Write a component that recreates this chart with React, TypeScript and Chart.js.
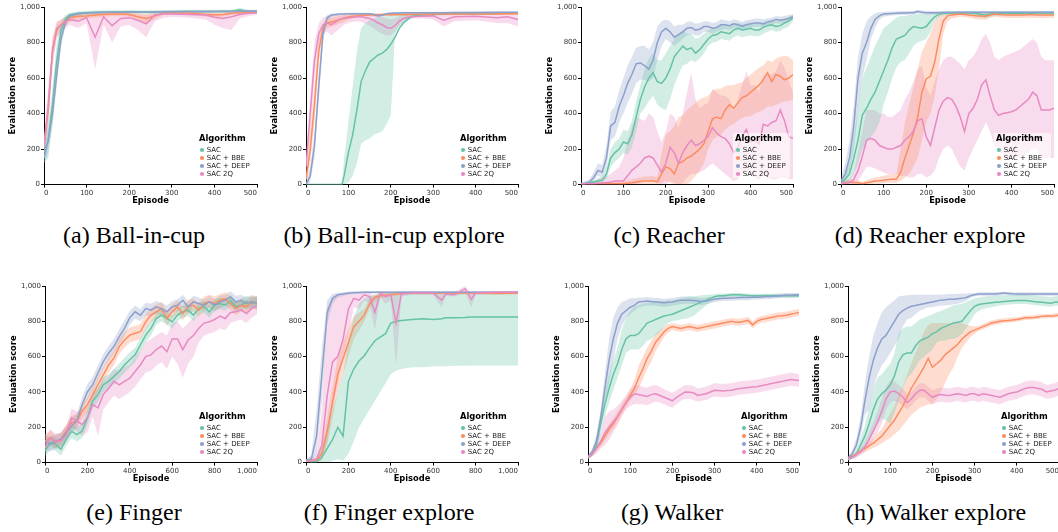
import React, { useEffect, useRef } from "react";
import { Chart, registerables } from "chart.js";
Chart.register(...registerables);

// ---------- shared labels / ticks ----------
const seriesNames = ["SAC", "SAC + BBE", "SAC + DEEP", "SAC 2Q"];
const seriesColors = ["#66c2a5", "#fc8d62", "#8da0cb", "#e78ac3"];
const bandColors = ["rgba(102,194,165,0.3)", "rgba(252,141,98,0.3)", "rgba(141,160,203,0.3)", "rgba(231,138,195,0.3)"];
const yTickValues = [0, 200, 400, 600, 800, 1000];
const xTicks500 = [0, 100, 200, 300, 400, 500];
const xTicks1000 = [0, 200, 400, 600, 800, 1000];
const legendTitle = "Algorithm";
const xTitle = "Episode";
const yTitle = "Evaluation score";

// ---------- (a) Ball-in-cup ----------
const ballInCupEpisodes = [0,10,20,30,40,50,60,80,100,120,140,160,180,200,220,240,260,280,300,340,380,400,420,440,460,480,500];
const ballInCupSAC = [180,250,450,700,870,930,955,965,968,970,970,972,972,973,972,970,972,973,974,975,975,975,976,976,985,975,975];
const ballInCupSACLow = [120,150,350,600,820,900,935,950,955,960,960,962,962,963,962,960,962,963,965,966,966,966,967,967,972,966,966];
const ballInCupSACHigh = [250,350,550,800,910,955,968,975,978,980,980,982,982,983,982,980,982,983,983,984,984,984,985,985,995,984,984];
const ballInCupBBE = [230,420,760,870,900,920,940,948,950,955,958,960,960,958,945,935,950,965,966,966,958,955,958,965,968,970,970];
const ballInCupBBELow = [180,350,700,830,870,890,915,930,935,940,945,948,948,945,920,905,930,955,958,958,945,940,945,955,960,962,962];
const ballInCupBBEHigh = [280,500,820,910,930,945,958,962,965,968,970,972,972,970,965,960,965,975,975,975,970,968,970,975,977,978,978];
const ballInCupDEEP = [150,250,400,620,820,910,950,962,966,968,970,970,971,971,972,972,972,973,973,974,974,975,975,975,976,977,977];
const ballInCupDEEPLow = [120,180,330,560,780,890,940,955,960,962,964,964,965,965,966,966,966,967,967,968,968,969,969,969,970,971,971];
const ballInCupDEEPHigh = [200,320,480,690,860,930,960,970,973,975,977,977,978,978,978,978,978,979,979,980,980,980,980,981,982,983,983];
const ballInCup2Q = [200,450,750,880,900,915,930,920,940,830,945,895,935,940,925,905,955,960,960,958,955,942,935,945,958,965,968];
const ballInCup2QLow = [150,350,650,830,860,880,900,880,910,650,900,800,890,900,870,830,920,940,945,940,930,900,880,870,935,950,955];
const ballInCup2QHigh = [260,550,830,920,930,945,955,955,960,965,968,960,965,965,960,955,970,972,972,970,970,965,962,960,972,975,975];

// ---------- (b) Ball-in-cup explore ----------
const ballExpEpisodes = [0,10,20,30,40,50,60,80,85,90,100,110,120,130,140,150,160,170,180,190,200,210,220,230,240,250,275,300,325,350,400,450,475,500];
const ballExpSAC = [0,0,0,0,0,0,0,0,0,50,180,280,420,580,640,690,710,730,740,760,790,830,880,910,930,948,955,958,960,962,963,965,965,966];
const ballExpSACLow = [0,0,0,0,0,0,0,0,0,0,10,50,120,230,250,260,280,290,300,340,390,850,890,910,925,940,948,952,955,956,957,958,959,960];
const ballExpSACHigh = [0,0,0,0,0,0,0,5,10,150,350,550,750,880,910,925,935,940,945,950,955,960,962,963,964,965,966,967,968,968,969,970,970,971];
const ballExpBBE = [30,200,450,750,880,910,915,930,932,935,945,948,950,952,954,955,956,956,957,957,957,958,958,958,958,959,959,960,960,960,961,961,962,962];
const ballExpBBELow = [0,120,350,680,850,880,890,905,910,915,930,935,940,942,945,946,947,948,948,949,949,950,950,950,950,951,952,953,953,954,955,955,956,956];
const ballExpBBEHigh = [80,300,560,820,910,935,940,950,952,955,958,960,962,963,964,964,965,965,966,966,966,967,967,967,967,968,968,969,969,969,970,970,970,970];
const ballExpDEEP = [0,50,220,550,850,940,955,960,960,961,962,962,962,962,962,962,958,950,955,962,965,966,966,967,967,967,968,968,968,969,969,970,970,970];
const ballExpDEEPLow = [0,10,150,470,800,920,945,952,953,954,955,955,955,955,955,955,950,940,945,955,958,960,960,961,961,961,962,962,962,963,963,964,964,964];
const ballExpDEEPHigh = [20,100,300,630,890,955,962,966,966,967,968,968,968,968,968,968,965,960,963,968,970,971,971,972,972,972,973,973,973,974,974,975,975,975];
const ballExp2Q = [100,400,700,850,900,910,900,930,935,938,940,942,945,945,940,935,925,910,900,885,880,895,920,935,942,945,948,950,925,945,948,940,945,930];
const ballExp2QLow = [50,300,600,780,850,860,840,880,890,900,910,915,920,915,905,895,880,860,850,840,840,860,895,920,930,935,935,930,890,920,925,910,910,890];
const ballExp2QHigh = [160,500,800,910,940,950,955,955,956,957,958,960,962,962,960,958,955,950,945,935,930,935,950,955,958,960,962,965,955,960,962,960,960,958];

// ---------- shared 10-episode grid for (c) (d) (g) (h) ----------
const episodesBy10 = [0,10,20,30,40,50,60,70,80,90,100,110,120,130,140,150,160,170,180,190,200,210,220,230,240,250,260,270,280,290,300,310,320,330,340,350,360,370,380,390,400,410,420,430,440,450,460,470,480,490,500];

// ---------- (c) Reacher ----------
const reacherSAC = [5,5,10,15,20,25,60,150,180,200,240,230,280,380,480,550,600,630,580,570,600,650,720,750,780,760,770,740,760,790,820,840,845,860,855,850,870,880,870,875,880,870,870,885,895,900,890,895,910,920,940];
const reacherSACLow = [0,0,5,8,10,10,30,100,130,150,180,170,210,300,400,430,470,500,450,430,420,480,560,620,670,680,700,690,710,740,780,800,805,820,815,810,830,840,830,835,840,835,835,850,860,870,860,865,880,890,920];
const reacherSACHigh = [10,10,20,25,35,45,100,200,240,260,310,300,360,470,560,650,710,740,700,700,740,780,820,850,870,850,850,820,830,850,870,880,885,900,895,890,905,910,905,905,915,905,905,915,925,930,920,925,935,945,955];
const reacherBBE = [5,5,5,5,5,5,5,5,5,5,5,8,10,15,18,20,20,22,15,60,100,90,60,120,130,150,160,180,200,230,300,370,380,370,420,450,430,460,490,500,520,540,560,590,630,580,620,610,590,600,620];
const reacherBBELow = [0,0,0,0,0,0,0,0,0,0,0,0,0,0,0,0,0,0,0,10,20,10,0,0,0,0,20,50,80,120,200,250,270,280,310,330,340,360,375,385,385,400,410,420,440,440,450,460,470,470,480];
const reacherBBEHigh = [10,10,10,15,15,15,15,15,15,15,20,25,30,35,40,45,45,50,40,180,280,300,330,380,390,420,440,460,480,490,500,530,540,540,555,560,560,570,575,600,620,640,660,670,700,690,710,720,725,720,700];
const reacherDEEP = [5,8,15,40,80,70,150,330,350,440,500,570,620,680,685,670,650,700,800,860,880,860,830,845,860,880,885,870,875,890,890,880,885,900,900,895,905,900,890,900,905,910,910,905,915,920,930,925,930,935,945];
const reacherDEEPLow = [0,0,5,20,50,40,100,250,270,350,400,460,510,570,590,590,580,600,700,780,820,800,780,800,820,840,850,840,840,860,860,850,860,870,875,870,880,875,870,880,885,890,890,885,895,900,910,905,915,920,930];
const reacherDEEPHigh = [10,20,30,70,120,110,220,410,440,530,600,670,720,770,780,780,760,800,890,920,930,920,890,900,900,915,920,905,910,920,920,910,915,930,925,920,930,925,915,925,930,935,935,930,935,940,950,945,950,955,960];
const reacher2Q = [5,5,5,5,8,10,12,15,20,20,20,50,80,100,120,150,160,150,110,70,120,210,180,120,180,220,250,220,230,250,270,320,290,270,260,230,180,210,270,310,240,250,230,340,330,350,360,420,360,270,260];
const reacher2QLow = [0,0,0,0,0,0,0,0,0,0,0,0,0,0,10,20,20,20,10,0,0,20,10,0,10,40,60,60,70,80,100,120,100,80,60,40,20,30,60,80,50,40,30,50,40,30,30,40,40,30,30];
const reacher2QHigh = [10,10,15,20,30,40,50,60,80,100,150,250,330,380,370,360,400,380,300,240,300,400,380,320,400,520,630,480,430,450,460,540,520,500,500,480,420,480,560,640,560,560,520,620,620,620,640,700,660,580,520];

// ---------- (d) Reacher explore ----------
const reacherExpSAC = [10,30,60,150,250,390,430,480,520,580,640,700,770,820,830,840,870,890,885,880,890,920,945,960,965,965,966,966,966,966,966,965,962,958,955,960,962,963,964,965,965,965,965,965,965,965,966,966,966,966,966];
const reacherExpSACLow = [0,10,20,60,120,200,240,270,300,350,450,520,600,660,690,700,740,780,800,810,820,860,920,945,952,955,956,956,956,956,955,952,948,940,938,945,950,952,954,955,955,955,955,955,955,955,956,956,956,956,956];
const reacherExpSACHigh = [25,60,120,280,420,600,660,720,780,830,880,900,920,940,950,950,955,958,960,960,962,965,968,972,975,975,976,976,976,976,976,975,973,970,968,972,973,974,975,975,975,975,975,975,975,975,976,976,976,976,976];
const reacherExpBBE = [5,10,15,12,10,5,10,15,20,22,25,28,30,30,70,150,220,290,380,520,595,610,690,820,920,950,955,958,960,958,955,952,950,950,948,955,960,958,956,955,955,955,955,955,956,956,955,955,955,955,955];
const reacherExpBBELow = [0,0,5,3,0,0,0,3,5,5,8,10,10,10,20,40,60,100,150,250,350,400,500,650,850,920,935,940,945,942,940,935,930,930,928,938,945,942,940,938,938,938,938,938,940,940,938,938,938,938,938];
const reacherExpBBEHigh = [15,25,30,25,25,15,25,35,40,45,50,55,60,60,200,350,450,550,650,750,800,850,920,955,965,968,970,970,972,970,968,967,966,966,965,968,972,970,970,968,968,968,968,968,969,969,968,968,968,968,968];
const reacherExpDEEP = [20,60,150,330,600,740,800,880,930,950,960,962,964,965,966,966,967,968,975,970,968,968,968,968,969,969,969,970,970,970,970,970,970,970,970,970,970,970,970,970,970,970,970,970,970,970,970,970,970,970,970];
const reacherExpDEEPLow = [0,20,80,200,400,600,700,820,880,930,945,950,952,954,955,955,956,958,965,960,958,958,958,958,960,960,960,962,962,962,962,962,962,962,962,962,962,962,962,962,962,962,962,962,962,962,962,962,962,962,962];
const reacherExpDEEPHigh = [40,120,250,450,720,850,920,950,965,970,972,974,975,976,977,977,978,978,985,980,978,978,978,978,978,978,978,978,978,978,978,978,978,978,978,978,978,978,978,978,978,978,978,978,978,978,978,978,978,978,978];
const reacherExp2Q = [5,8,10,30,80,160,250,260,250,220,210,200,200,210,220,250,270,300,360,370,270,220,320,420,470,490,480,440,380,300,400,430,480,560,590,500,420,390,400,405,410,420,440,460,480,520,500,420,420,420,430];
const reacherExp2QLow = [0,0,0,5,20,60,100,100,90,80,70,60,60,60,50,50,40,40,60,60,40,50,80,150,200,220,200,150,100,80,150,200,250,300,350,300,220,180,180,150,150,150,160,170,180,200,200,150,150,150,150];
const reacherExp2QHigh = [10,20,30,70,180,300,420,420,420,400,400,380,380,400,420,480,520,580,650,670,550,500,580,650,700,720,720,700,680,650,700,720,760,820,850,800,720,700,720,730,740,750,760,780,800,820,800,720,700,700,700];

// ---------- (e) Finger ----------
const fingerEpisodes = [0,25,50,75,100,125,150,175,200,225,250,275,300,325,350,375,400,425,450,475,500,525,550,575,600,625,650,675,700,725,750,775,800,825,850,875,900,925,950,975,1000];
const fingerSAC = [66,113,103,75,131,178,159,178,253,347,385,441,460,488,516,553,582,610,666,722,760,816,835,816,797,835,854,863,835,872,882,854,891,901,891,919,882,891,910,901,910];
const fingerSACLow = [30,75,65,40,95,140,120,140,215,305,345,400,420,445,475,510,540,570,625,680,720,780,800,780,760,800,820,830,800,840,850,820,860,870,860,885,850,860,880,870,880];
const fingerSACHigh = [105,150,140,115,170,215,200,220,295,390,425,485,500,530,560,595,625,650,705,765,800,850,870,850,835,870,890,895,870,905,915,890,925,935,925,950,915,925,945,935,945];
const fingerBBE = [120,140,113,131,178,225,235,291,328,385,441,497,553,591,657,694,722,732,741,797,835,854,872,816,854,882,844,882,891,863,901,910,901,919,929,901,872,891,882,910,901];
const fingerBBELow = [80,100,75,95,140,185,195,250,285,340,400,455,510,550,615,650,680,690,700,755,795,815,835,775,815,845,805,845,855,825,865,875,865,880,890,865,835,855,845,875,865];
const fingerBBEHigh = [160,180,150,170,215,265,275,330,370,430,485,540,595,635,700,740,765,775,785,840,875,895,910,860,895,920,885,920,930,900,940,950,940,955,965,940,910,930,920,950,940];
const fingerDEEP = [122,103,122,131,169,206,235,328,400,441,507,572,619,657,713,760,820,854,835,872,863,882,872,854,882,891,919,882,910,901,891,910,891,910,919,938,910,919,901,910,901];
const fingerDEEPLow = [80,60,85,95,130,165,195,285,355,400,465,530,575,615,670,715,780,815,800,835,825,845,835,815,845,855,880,845,875,865,855,875,855,875,885,900,875,885,865,875,865];
const fingerDEEPHigh = [165,145,160,170,210,250,275,370,445,485,550,615,660,700,755,805,860,890,870,905,900,915,905,890,915,925,950,915,945,935,925,945,925,945,950,970,945,950,935,945,935];
const finger2Q = [84,140,122,122,159,253,235,216,253,328,310,385,420,460,440,460,478,516,553,600,610,640,660,628,700,700,640,694,720,760,790,797,810,830,816,850,854,865,844,872,891];
const finger2QLow = [40,95,80,80,115,200,180,150,170,260,150,300,340,380,360,380,400,430,470,510,520,550,570,530,600,560,480,560,600,680,720,730,740,760,750,790,800,810,790,820,840];
const finger2QHigh = [130,190,165,165,205,305,290,280,330,390,420,460,490,530,520,540,555,600,630,680,700,720,740,720,790,800,760,790,820,840,860,860,870,890,880,910,910,920,900,925,940];

// ---------- (f) Finger explore ----------
const fingerExpEpisodes = [0,25,50,75,100,125,150,175,200,225,250,275,300,325,350,375,400,425,450,500,550,600,640,660,700,750,780,800,900,1000];
const fingerExpSAC = [10,5,5,30,80,130,200,150,460,530,575,605,650,690,710,730,790,800,805,810,815,810,815,820,820,822,825,825,825,825];
const fingerExpSACLow = [0,0,0,0,0,10,20,10,50,120,200,250,300,350,400,450,500,520,530,540,540,545,545,545,548,548,550,550,550,550];
const fingerExpSACHigh = [20,15,20,80,200,300,400,500,700,820,900,930,940,950,955,958,960,960,960,960,960,960,960,960,960,960,960,960,960,960];
const fingerExpBBE = [10,10,15,50,180,340,500,590,680,770,800,835,900,935,945,948,950,955,958,960,960,960,960,960,960,960,960,960,958,960];
const fingerExpBBELow = [0,0,0,10,100,250,400,500,600,700,750,800,870,915,930,935,940,945,950,952,952,952,952,952,952,952,952,952,950,952];
const fingerExpBBEHigh = [20,20,30,100,260,430,600,680,760,830,850,870,930,952,958,960,960,963,965,967,967,967,967,967,967,967,967,967,965,967];
const fingerExpDEEP = [10,20,150,500,850,930,950,955,960,962,963,964,965,965,965,965,965,965,965,965,965,965,965,965,965,965,965,965,965,965];
const fingerExpDEEPLow = [0,5,50,350,780,900,935,945,950,955,956,957,958,958,958,958,958,958,958,958,958,958,958,958,958,958,958,958,958,958];
const fingerExpDEEPHigh = [20,40,300,650,920,955,962,965,968,970,970,970,971,971,971,971,971,971,971,971,971,971,971,971,971,971,971,971,971,971];
const fingerExp2Q = [10,10,20,100,380,570,600,700,870,930,920,950,940,850,960,940,950,790,955,960,960,960,920,955,950,985,925,960,965,965];
const fingerExp2QLow = [0,0,5,30,120,300,450,600,720,880,870,920,900,750,940,900,920,550,940,950,950,950,880,945,940,960,880,950,955,955];
const fingerExp2QHigh = [20,25,50,300,880,930,950,955,960,965,965,968,966,940,970,965,968,950,968,970,970,970,960,968,965,1000,960,970,972,972];

// ---------- (g) Walker ----------
const walkerSAC = [30,50,100,220,330,420,500,560,640,700,720,720,730,760,790,800,810,820,830,835,840,850,860,870,880,890,900,910,920,930,940,945,945,948,950,950,950,948,946,945,945,945,945,945,945,945,945,945,945,945,945];
const walkerSACLow = [20,35,70,170,260,340,410,480,550,620,640,640,640,660,690,700,720,740,770,790,800,805,810,815,820,830,850,870,890,910,925,932,935,938,940,940,940,938,936,935,935,935,935,935,935,935,935,935,935,935,935];
const walkerSACHigh = [40,70,140,280,400,500,580,650,750,820,860,880,890,900,905,910,915,915,915,918,920,925,930,935,940,942,945,948,950,952,955,957,957,958,960,960,960,958,957,956,956,956,956,956,956,956,956,956,956,956,956];
const walkerBBE = [30,50,80,110,150,190,220,260,300,340,380,420,480,530,590,630,680,710,740,760,770,765,760,765,770,765,760,765,770,775,780,785,790,795,800,795,795,800,805,780,800,810,815,820,825,830,832,835,840,845,850];
const walkerBBELow = [20,40,65,90,125,160,190,230,270,310,350,380,420,470,530,570,630,670,710,735,750,745,740,745,750,745,740,745,750,755,760,765,770,775,780,775,775,780,785,760,780,790,795,800,805,810,812,815,820,825,830];
const walkerBBEHigh = [40,60,95,130,175,220,250,290,330,370,410,470,550,600,650,690,730,750,770,785,790,785,780,785,790,785,780,785,790,795,800,805,810,815,820,815,815,820,825,800,820,830,835,840,845,850,852,855,860,865,870];
const walkerDEEP = [30,60,120,250,420,580,700,790,840,860,880,890,910,912,915,912,910,908,905,908,910,915,920,920,920,918,915,912,915,920,925,928,930,930,932,933,935,935,935,936,937,938,940,940,942,944,946,948,948,949,950];
const walkerDEEPLow = [20,40,90,200,340,450,580,700,770,820,840,860,880,885,890,890,888,886,882,885,888,893,898,900,900,898,895,893,896,902,908,912,915,915,917,918,920,920,920,922,923,924,926,926,928,930,932,934,934,935,936];
const walkerDEEPHigh = [40,80,160,300,500,700,820,880,910,920,930,930,935,935,938,935,932,930,928,930,932,936,940,940,940,938,935,932,935,938,942,944,945,945,946,947,948,948,948,949,950,951,953,953,955,957,958,960,960,961,962];
const walker2Q = [30,50,80,120,170,200,230,260,300,340,370,390,385,380,375,385,390,380,370,360,350,370,385,400,398,395,380,385,390,400,410,408,405,408,410,415,420,422,425,428,430,435,440,445,450,455,460,465,470,468,465];
const walker2QLow = [20,35,50,80,100,130,170,210,260,300,320,330,330,330,325,335,345,340,330,320,310,330,350,360,360,355,345,350,355,365,375,372,370,372,375,380,385,387,390,393,395,400,405,410,415,420,425,430,435,433,430];
const walker2QHigh = [40,70,120,170,260,290,300,320,350,380,420,440,440,430,425,435,440,430,415,405,395,410,425,440,438,435,420,425,430,440,450,448,445,448,450,455,460,462,465,468,470,475,480,485,490,495,500,505,510,505,500];

// ---------- (h) Walker explore ----------
const walkerExpSAC = [20,30,50,100,150,220,300,360,390,410,440,490,570,610,620,620,660,690,700,710,730,740,760,770,780,790,795,800,830,860,885,895,900,902,905,908,910,912,914,916,918,918,918,915,912,910,908,905,902,908,910];
const walkerExpSACLow = [10,20,30,60,90,130,180,220,250,240,220,280,350,420,480,500,540,580,600,620,640,680,690,690,700,700,710,730,760,800,840,860,870,875,880,885,890,892,894,896,898,898,898,895,892,890,888,885,882,888,890];
const walkerExpSACHigh = [30,40,70,140,210,310,420,480,500,530,560,620,730,760,770,770,790,810,820,830,840,850,860,870,880,890,895,900,910,920,930,935,940,942,945,946,947,948,950,950,950,950,950,948,946,944,942,940,938,942,944];
const walkerExpBBE = [25,35,50,65,80,95,110,130,150,180,210,240,280,320,370,420,460,500,540,590,540,560,580,610,630,650,670,700,720,740,750,760,770,780,790,795,800,803,805,808,810,815,820,820,822,825,828,830,830,832,835];
const walkerExpBBELow = [15,25,38,50,62,72,82,95,110,125,140,160,180,210,240,270,290,310,320,330,330,360,400,450,500,540,600,650,680,710,730,745,755,765,775,780,785,790,792,795,797,802,807,807,810,813,816,818,818,820,823];
const walkerExpBBEHigh = [35,45,62,80,98,118,138,165,190,235,280,320,380,430,500,560,620,680,740,780,790,790,790,790,790,790,790,790,780,775,770,775,785,795,805,810,815,818,820,822,824,828,833,833,835,838,840,842,842,845,848];
const walkerExpDEEP = [25,50,100,200,350,480,580,650,700,720,760,800,840,860,875,885,890,895,900,905,910,915,920,922,925,925,928,930,935,945,950,955,955,955,955,955,958,960,958,956,955,955,955,955,955,955,955,955,955,955,955];
const walkerExpDEEPLow = [15,35,70,150,270,300,420,500,550,580,620,660,700,770,810,820,840,860,870,880,880,885,888,890,892,895,900,905,915,930,940,945,945,945,945,945,948,950,948,946,945,945,945,945,945,945,945,945,945,945,945];
const walkerExpDEEPHigh = [35,70,140,260,450,600,720,790,850,880,900,920,940,945,948,950,950,950,950,950,950,950,952,952,955,955,956,957,958,960,962,964,964,964,964,964,966,968,966,965,964,964,964,964,964,964,964,964,964,964,964];
const walkerExp2Q = [20,30,45,60,90,130,180,230,290,360,400,405,390,370,340,360,390,410,410,390,370,380,385,382,380,385,390,385,380,390,390,380,390,385,380,375,370,380,390,395,400,410,420,425,425,420,415,400,405,410,420];
const walkerExp2QLow = [10,20,30,40,60,90,130,170,220,300,340,350,340,320,300,320,350,370,370,350,330,340,345,342,340,345,350,345,340,350,350,340,350,345,340,335,330,340,350,355,360,370,380,385,385,380,375,360,365,370,380];
const walkerExp2QHigh = [30,40,60,80,120,170,230,290,360,430,460,460,440,420,390,400,430,450,450,430,410,420,425,422,420,425,430,425,420,430,430,420,430,425,420,415,410,420,430,435,440,450,460,465,465,460,455,440,445,450,460];

// ---------- panel definitions ----------
type Band = { mean: number[]; lo: number[]; hi: number[] };
type PanelCfg = {
  caption: string; episodes: number[]; series: Band[]; xMax: number; xTicks: number[];
  plotLeft: number; plotTop: number; plotW: number; plotH: number; capX: number; capBaseline: number;
};
const b = (mean: number[], lo: number[], hi: number[]): Band => ({ mean, lo, hi });

const panels: PanelCfg[] = [
  { caption: "(a) Ball-in-cup", episodes: ballInCupEpisodes, xMax: 500, xTicks: xTicks500,
    series: [b(ballInCupSAC, ballInCupSACLow, ballInCupSACHigh), b(ballInCupBBE, ballInCupBBELow, ballInCupBBEHigh), b(ballInCupDEEP, ballInCupDEEPLow, ballInCupDEEPHigh), b(ballInCup2Q, ballInCup2QLow, ballInCup2QHigh)],
    plotLeft: 44, plotTop: 7, plotW: 213, plotH: 178, capX: 134, capBaseline: 242.7 },
  { caption: "(b) Ball-in-cup explore", episodes: ballExpEpisodes, xMax: 500, xTicks: xTicks500,
    series: [b(ballExpSAC, ballExpSACLow, ballExpSACHigh), b(ballExpBBE, ballExpBBELow, ballExpBBEHigh), b(ballExpDEEP, ballExpDEEPLow, ballExpDEEPHigh), b(ballExp2Q, ballExp2QLow, ballExp2QHigh)],
    plotLeft: 306, plotTop: 7, plotW: 212, plotH: 178, capX: 394, capBaseline: 242.7 },
  { caption: "(c) Reacher", episodes: episodesBy10, xMax: 500, xTicks: xTicks500,
    series: [b(reacherSAC, reacherSACLow, reacherSACHigh), b(reacherBBE, reacherBBELow, reacherBBEHigh), b(reacherDEEP, reacherDEEPLow, reacherDEEPHigh), b(reacher2Q, reacher2QLow, reacher2QHigh)],
    plotLeft: 581, plotTop: 7, plotW: 212, plotH: 178, capX: 669, capBaseline: 242.7 },
  { caption: "(d) Reacher explore", episodes: episodesBy10, xMax: 500, xTicks: xTicks500,
    series: [b(reacherExpSAC, reacherExpSACLow, reacherExpSACHigh), b(reacherExpBBE, reacherExpBBELow, reacherExpBBEHigh), b(reacherExpDEEP, reacherExpDEEPLow, reacherExpDEEPHigh), b(reacherExp2Q, reacherExp2QLow, reacherExp2QHigh)],
    plotLeft: 841, plotTop: 7, plotW: 213, plotH: 178, capX: 930, capBaseline: 242.7 },
  { caption: "(e) Finger", episodes: fingerEpisodes, xMax: 1000, xTicks: xTicks1000,
    series: [b(fingerSAC, fingerSACLow, fingerSACHigh), b(fingerBBE, fingerBBELow, fingerBBEHigh), b(fingerDEEP, fingerDEEPLow, fingerDEEPHigh), b(finger2Q, finger2QLow, finger2QHigh)],
    plotLeft: 45, plotTop: 286, plotW: 212, plotH: 177, capX: 134, capBaseline: 520 },
  { caption: "(f) Finger explore", episodes: fingerExpEpisodes, xMax: 1000, xTicks: xTicks1000,
    series: [b(fingerExpSAC, fingerExpSACLow, fingerExpSACHigh), b(fingerExpBBE, fingerExpBBELow, fingerExpBBEHigh), b(fingerExpDEEP, fingerExpDEEPLow, fingerExpDEEPHigh), b(fingerExp2Q, fingerExp2QLow, fingerExp2QHigh)],
    plotLeft: 306, plotTop: 286, plotW: 212, plotH: 177, capX: 389, capBaseline: 520 },
  { caption: "(g) Walker", episodes: episodesBy10, xMax: 500, xTicks: xTicks500,
    series: [b(walkerSAC, walkerSACLow, walkerSACHigh), b(walkerBBE, walkerBBELow, walkerBBEHigh), b(walkerDEEP, walkerDEEPLow, walkerDEEPHigh), b(walker2Q, walker2QLow, walker2QHigh)],
    plotLeft: 588, plotTop: 286, plotW: 211, plotH: 177, capX: 672, capBaseline: 520 },
  { caption: "(h) Walker explore", episodes: episodesBy10, xMax: 500, xTicks: xTicks500,
    series: [b(walkerExpSAC, walkerExpSACLow, walkerExpSACHigh), b(walkerExpBBE, walkerExpBBELow, walkerExpBBEHigh), b(walkerExpDEEP, walkerExpDEEPLow, walkerExpDEEPHigh), b(walkerExp2Q, walkerExp2QLow, walkerExp2QHigh)],
    plotLeft: 848, plotTop: 286, plotW: 211, plotH: 177, capX: 936, capBaseline: 520 },
];

const FONT = "DejaVu Sans";
const Y_AXIS_W = 36;
const PAD_L = 9;
const PAD_T = 8;
const X_AXIS_H = 21.4;

const legendPlugin = {
  id: "algoLegend",
  afterDatasetsDraw(chart: any) {
    const { ctx, chartArea } = chart;
    const right = chartArea.right;
    const bottom = chartArea.bottom;
    const tx = right - 58;
    ctx.save();
    ctx.fillStyle = "rgba(255,255,255,0.6)";
    ctx.fillRect(tx - 2, bottom - 51.5, right - 3 - (tx - 2), 45);
    ctx.textBaseline = "middle";
    ctx.textAlign = "left";
    ctx.font = `bold 8.4px "${FONT}"`;
    ctx.fillStyle = "#000";
    ctx.fillText(legendTitle, tx, bottom - 45.3);
    ctx.font = `7px "${FONT}"`;
    seriesNames.forEach((n, i) => {
      const y = bottom - 34.6 + i * 8;
      ctx.beginPath();
      ctx.arc(right - 55, y, 2.1, 0, Math.PI * 2);
      ctx.fillStyle = seriesColors[i];
      ctx.fill();
      ctx.fillStyle = "#222";
      ctx.fillText(n, right - 50.3, y + 0.3);
    });
    ctx.restore();
  },
};

function Panel({ cfg }: { cfg: PanelCfg }) {
  const ref = useRef<HTMLCanvasElement>(null);
  const W = 45 + cfg.plotW + 6;
  const H = PAD_T + cfg.plotH + X_AXIS_H + 2;
  useEffect(() => {
    const pts = (ys: number[]) => cfg.episodes.map((x, i) => ({ x, y: ys[i] }));
    const datasets: any[] = [];
    cfg.series.forEach((s, i) => {
      const hiIdx = datasets.length;
      datasets.push({ data: pts(s.hi), borderWidth: 0, pointRadius: 0, fill: hiIdx + 1, backgroundColor: bandColors[i], order: 20 });
      datasets.push({ data: pts(s.lo), borderWidth: 0, pointRadius: 0, fill: false, order: 20 });
    });
    cfg.series.forEach((s, i) => {
      datasets.push({ label: seriesNames[i], data: pts(s.mean), borderColor: seriesColors[i], borderWidth: 1.5, pointRadius: 0, fill: false, order: 4 - i });
    });
    const tickFont = { family: FONT, size: 7 };
    const titleFont = { family: FONT, size: 8.3, weight: "bold" };
    const fmt = (v: any) => Number(v).toLocaleString("en-US");
    const chart = new Chart(ref.current as HTMLCanvasElement, {
      type: "line",
      data: { datasets },
      plugins: [legendPlugin],
      options: {
        animation: false,
        responsive: false,
        devicePixelRatio: 1,
        events: [],
        layout: { autoPadding: false, padding: { left: PAD_L, top: PAD_T, right: W - 45 - cfg.plotW, bottom: H - PAD_T - cfg.plotH - X_AXIS_H } },
        plugins: { legend: { display: false }, tooltip: { enabled: false } },
        scales: {
          x: {
            type: "linear", min: 0, max: cfg.xMax,
            afterBuildTicks: (s: any) => { s.ticks = cfg.xTicks.map((v) => ({ value: v })); },
            afterFit: (s: any) => { s.height = X_AXIS_H; },
            ticks: { align: "inner", font: tickFont, color: "#333", padding: 1, maxRotation: 0, autoSkip: false, callback: fmt },
            grid: { drawOnChartArea: false, drawTicks: true, tickLength: 3, tickColor: "#000", tickWidth: 1 },
            border: { display: true, color: "#000", width: 1 },
            title: { display: true, text: xTitle, font: titleFont, color: "#000", padding: 0 },
          },
          y: {
            type: "linear", min: 0, max: 1000,
            afterBuildTicks: (s: any) => { s.ticks = yTickValues.map((v) => ({ value: v })); },
            afterFit: (s: any) => { s.width = Y_AXIS_W; },
            ticks: { font: tickFont, color: "#333", padding: 1, autoSkip: false, callback: fmt },
            grid: { drawOnChartArea: false, drawTicks: true, tickLength: 3, tickColor: "#000", tickWidth: 1 },
            border: { display: true, color: "#000", width: 1 },
            title: { display: true, text: yTitle, font: titleFont, color: "#000", padding: 0 },
          },
        },
      } as any,
    } as any);
    return () => chart.destroy();
  }, [cfg]);
  return (
    <canvas
      ref={ref}
      width={W}
      height={H}
      style={{ position: "absolute", left: cfg.plotLeft - 45, top: cfg.plotTop - PAD_T, width: W, height: H }}
    />
  );
}

function Caption({ cfg }: { cfg: PanelCfg }) {
  return (
    <div
      style={{
        position: "absolute", left: cfg.capX - 160, width: 320, top: cfg.capBaseline - 20.1,
        textAlign: "center", fontFamily: '"Liberation Serif", serif', fontSize: 24, lineHeight: "24px",
        whiteSpace: "nowrap", color: "#000",
      }}
    >
      {cfg.caption}
    </div>
  );
}

export default function App() {
  return (
    <div style={{ position: "absolute", left: 0, top: 0, width: 1058, height: 532, overflow: "hidden", background: "#fff" }}>
      {panels.map((p) => (
        <Panel key={p.caption} cfg={p} />
      ))}
      {panels.map((p) => (
        <Caption key={"cap" + p.caption} cfg={p} />
      ))}
    </div>
  );
}
